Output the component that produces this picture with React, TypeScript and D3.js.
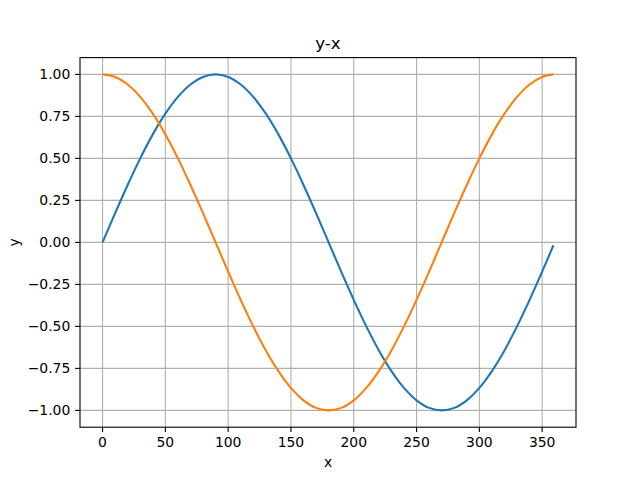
// Two-line chart (blue rising-first wave, orange falling-first wave), matplotlib look.
import * as d3 from "d3";

const xs = [
  0, 10, 20, 30, 40, 50, 60, 70, 80, 90, 100, 110, 120, 130, 140, 150, 160, 170,
  180, 190, 200, 210, 220, 230, 240, 250, 260, 270, 280, 290, 300, 310, 320, 330,
  340, 350, 359,
];
const blueY = [
  0, 0.174, 0.342, 0.5, 0.643, 0.766, 0.866, 0.94, 0.985, 1, 0.985, 0.94, 0.866,
  0.766, 0.643, 0.5, 0.342, 0.174, 0, -0.174, -0.342, -0.5, -0.643, -0.766,
  -0.866, -0.94, -0.985, -1, -0.985, -0.94, -0.866, -0.766, -0.643, -0.5, -0.342,
  -0.174, -0.017,
];
const orangeY = [
  1, 0.985, 0.94, 0.866, 0.766, 0.643, 0.5, 0.342, 0.174, 0, -0.174, -0.342,
  -0.5, -0.643, -0.766, -0.866, -0.94, -0.985, -1, -0.985, -0.94, -0.866, -0.766,
  -0.643, -0.5, -0.342, -0.174, 0, 0.174, 0.342, 0.5, 0.643, 0.766, 0.866, 0.94,
  0.985, 1,
];
const xTicks = [0, 50, 100, 150, 200, 250, 300, 350];
const yTicks = [-1, -0.75, -0.5, -0.25, 0, 0.25, 0.5, 0.75, 1];

const W = 640;
const H = 480;
const L = 80;
const R = 576;
const T = 57.6;
const B = 427.2;
const FONT = "'DejaVu Sans', sans-serif";

export default function App() {
  const x = d3.scaleLinear().domain([-17.95, 376.95]).range([L, R]);
  const y = d3.scaleLinear().domain([-1.1, 1.1]).range([B, T]);

  const line = d3
    .line<number>()
    .x((_, i) => x(xs[i]))
    .y((d) => y(d))
    .curve(d3.curveCatmullRom.alpha(0.5));

  const fmtY = (v: number) => d3.format(".2f")(v).replace("-", "\u2212");

  return (
    <>
      <style>{`body{margin:0}`}</style>
      <svg width={W} height={H} style={{ display: "block", background: "#fff" }}>
        {/* grid */}
        <g stroke="#b0b0b0" strokeWidth={1.1}>
          {xTicks.map((t) => (
            <line key={"gx" + t} x1={x(t)} x2={x(t)} y1={T} y2={B} />
          ))}
          {yTicks.map((t) => (
            <line key={"gy" + t} x1={L} x2={R} y1={y(t)} y2={y(t)} />
          ))}
        </g>

        {/* series */}
        <path d={line(blueY) ?? ""} fill="none" stroke="#1f77b4" strokeWidth={2.1} />
        <path d={line(orangeY) ?? ""} fill="none" stroke="#ff7f0e" strokeWidth={2.1} />

        {/* spines */}
        <rect x={L} y={T} width={R - L} height={B - T} fill="none" stroke="#000" strokeWidth={1.1} />

        {/* ticks + labels */}
        <g fontFamily={FONT} fontSize={13.9} fill="#000">
          {xTicks.map((t) => (
            <g key={"xt" + t}>
              <line x1={x(t)} x2={x(t)} y1={B} y2={B + 4.9} stroke="#000" strokeWidth={1.1} />
              <text x={x(t)} y={B + 9.7} dy="0.76em" textAnchor="middle">
                {t}
              </text>
            </g>
          ))}
          {yTicks.map((t) => (
            <g key={"yt" + t}>
              <line x1={L - 4.9} x2={L} y1={y(t)} y2={y(t)} stroke="#000" strokeWidth={1.1} />
              <text x={L - 9.7} y={y(t)} dy="0.36em" textAnchor="end">
                {fmtY(t)}
              </text>
            </g>
          ))}
          <text x={(L + R) / 2} y={467} textAnchor="middle">
            x
          </text>
          <text transform={`translate(19,${(T + B) / 2}) rotate(-90)`} textAnchor="middle">
            y
          </text>
        </g>

        <text x={(L + R) / 2} y={49.3} textAnchor="middle" fontFamily={FONT} fontSize={16.7}>
          y-x
        </text>
      </svg>
    </>
  );
}
